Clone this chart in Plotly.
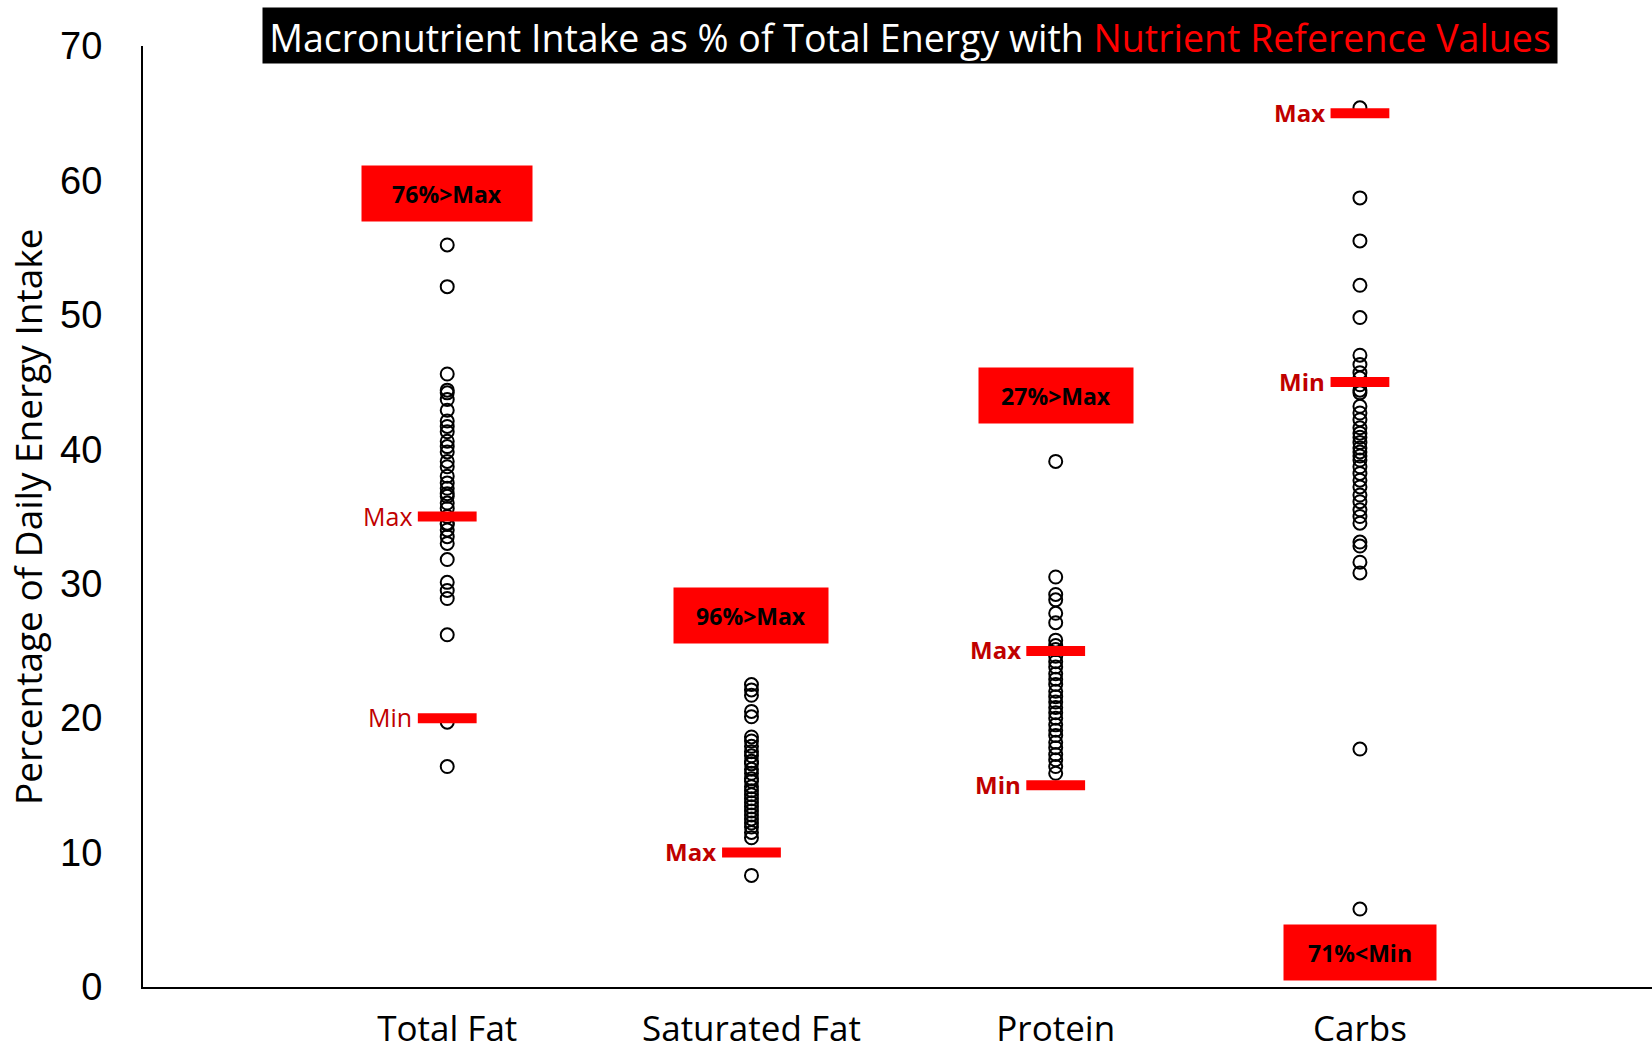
import plotly.graph_objects as go

# ---------------- data ----------------
categories = ["Total Fat", "Saturated Fat", "Protein", "Carbs"]

total_fat = [55.2, 52.1, 45.6, 44.4, 44.2, 43.7, 42.9, 42.1, 41.7, 41.3, 40.6, 40.2,
             39.8, 39.1, 38.7, 38.0, 37.5, 37.1, 36.7, 36.5, 36.0, 35.6, 35.0, 34.5,
             34.4, 34.0, 33.5, 33.0, 31.8, 30.1, 29.5, 28.9, 26.2, 19.7, 16.4]
saturated_fat = [22.5, 22.1, 21.7, 20.5, 20.1, 18.6, 18.3, 17.9, 17.5, 17.2, 16.8, 16.6,
                 16.2, 15.9, 15.5, 15.3, 14.9, 14.6, 14.3, 14.0, 13.7, 13.4, 13.1, 12.8,
                 12.5, 12.2, 11.9, 11.5, 11.1, 8.3]
protein = [39.1, 30.5, 29.2, 28.8, 27.8, 27.1, 25.8, 25.4, 25.1, 24.6, 24.2, 23.8, 23.3,
           22.9, 22.5, 22.0, 21.6, 21.2, 20.8, 20.4, 20.0, 19.5, 19.1, 18.7, 18.2, 17.8,
           17.3, 16.9, 16.4, 15.9]
carbs = [65.4, 58.7, 55.5, 52.2, 49.8, 47.0, 46.3, 45.7, 45.3, 44.8, 44.4, 44.2, 43.2,
         42.7, 42.2, 41.6, 41.2, 40.9, 40.5, 40.1, 39.8, 39.5, 39.2, 38.7, 38.2, 37.7,
         37.2, 36.6, 36.1, 35.5, 35.0, 34.5, 33.1, 32.8, 31.6, 30.8, 17.7, 5.8]

# Nutrient reference values
nrv_category = ["Total Fat", "Total Fat", "Saturated Fat", "Protein", "Protein", "Carbs", "Carbs"]
nrv_value = [35, 20, 10, 25, 15, 65, 45]
nrv_label = ["Max", "Min", "Max", "Max", "Min", "Max", "Min"]

# Summary boxes
summary_category = ["Total Fat", "Saturated Fat", "Protein", "Carbs"]
summary_text = ["76%>Max", "96%>Max", "27%>Max", "71%<Min"]

y_ticks = [0, 10, 20, 30, 40, 50, 60, 70]

# ---------------- figure ----------------
xpos = {c: i + 1 for i, c in enumerate(categories)}
series = [total_fat, saturated_fat, protein, carbs]

fig = go.Figure()
for cat, vals in zip(categories, series):
    fig.add_trace(go.Scatter(
        x=[xpos[cat]] * len(vals), y=vals, mode="markers",
        marker=dict(symbol="circle-open", size=13, color="black", line=dict(width=2, color="black")),
        showlegend=False, hoverinfo="y"))

fig.add_trace(go.Scatter(
    x=[xpos[c] for c in nrv_category], y=nrv_value, mode="markers",
    marker=dict(symbol="line-ew", size=42, color="#FF0000", line=dict(width=10, color="#FF0000")),
    showlegend=False, hoverinfo="y"))

annotations = []
for cat, val, lab in zip(nrv_category, nrv_value, nrv_label):
    bold = cat != "Total Fat"
    annotations.append(dict(
        x=xpos[cat], y=val, xref="x", yref="y", text=f"<b>{lab}</b>" if bold else lab,
        showarrow=False, xanchor="right", yanchor="middle", xshift=-33, yshift=1,
        font=dict(family="Open Sans", size=25 if not bold else 24, color="#C00000")))

# summary box placement (layout only)
box_y = {"Total Fat": 59.0, "Saturated Fat": 27.6, "Protein": 44.0, "Carbs": 2.6}
box_w = {"Total Fat": 170, "Saturated Fat": 154, "Protein": 154, "Carbs": 152}
for cat, txt in zip(summary_category, summary_text):
    annotations.append(dict(
        x=xpos[cat], y=box_y[cat], xref="x", yref="y", text=f"<b>{txt}</b>",
        showarrow=False, xanchor="center", yanchor="middle",
        width=box_w[cat], height=55, bgcolor="#FF0000", borderpad=0,
        font=dict(family="Open Sans", size=23, color="black")))

# title box
annotations.append(dict(
    x=0.508, y=1.0112, xref="paper", yref="paper",
    text="Macronutrient Intake as % of Total Energy with <span style='color:#FF0000'>Nutrient Reference Values</span>",
    showarrow=False, xanchor="center", yanchor="middle", width=1294, height=55,
    valign="bottom", bgcolor="black", borderpad=0,
    font=dict(family="Open Sans", size=37.5, color="white")))

# y axis title
annotations.append(dict(
    x=-0.0765, y=0.5, xref="paper", yref="paper", text="Percentage of Daily Energy Intake",
    textangle=-90, showarrow=False, xanchor="center", yanchor="middle",
    font=dict(family="Open Sans", size=37, color="black")))

fig.update_layout(
    width=1652, height=1054,
    margin=dict(l=143, r=0, t=46, b=67),
    paper_bgcolor="white", plot_bgcolor="white",
    annotations=annotations,
    xaxis=dict(range=[0, 4.96], tickvals=[xpos[c] for c in categories], ticktext=categories,
               showgrid=False, zeroline=False, showline=True, linecolor="black", linewidth=2,
               ticks="", ticklabelstandoff=10, automargin=False,
               tickfont=dict(family="Open Sans", size=35, color="black")),
    yaxis=dict(range=[0, 70], tickvals=y_ticks, showgrid=False, zeroline=False,
               showline=True, linecolor="black", linewidth=2, ticks="", ticklabelstandoff=31,
               automargin=False,
               tickfont=dict(family="Liberation Sans", size=38, color="black")),
)

fig.write_html("out.html", config={"displayModeBar": False},
               post_script="document.body.style.margin='0';document.body.style.overflow='hidden';")
